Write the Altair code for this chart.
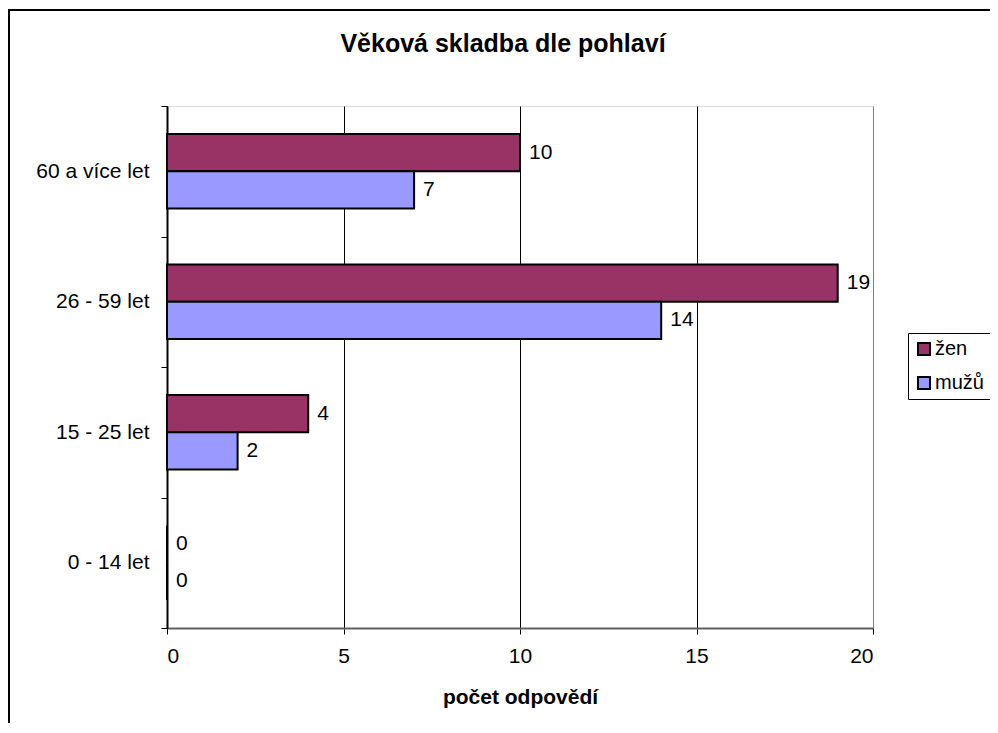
import altair as alt
import pandas as pd

title_text = "Věková skladba dle pohlaví"
categories = ["60 a více let", "26 - 59 let", "15 - 25 let", "0 - 14 let"]
series = ["žen", "mužů"]
zen = [10, 19, 4, 0]
muzu = [7, 14, 2, 0]
x_ticks = [0, 5, 10, 15, 20]
colors = ["#993366", "#9999FF"]

rows = []
for c, z, m in zip(categories, zen, muzu):
    rows.append({"vek": c, "pohlavi": "žen", "pocet": z})
    rows.append({"vek": c, "pohlavi": "mužů", "pocet": m})
df = pd.DataFrame(rows)

FONT = "Liberation Sans"
FS = 21

y_enc = alt.Y(
    "vek:N",
    sort=categories,
    title=None,
    scale=alt.Scale(paddingInner=0, paddingOuter=0),
    axis=alt.Axis(
        tickBand="extent",
        tickSize=6,
        tickColor="black",
        domainColor="black",
        domainWidth=2,
        labelPadding=12,
        labelFontSize=FS,
        labelFont=FONT,
        labelColor="black",
        grid=False,
    ),
)
yoff = alt.YOffset(
    "pohlavi:N", sort=series, scale=alt.Scale(paddingInner=0, paddingOuter=0.754)
)
x_enc = alt.X(
    "pocet:Q",
    scale=alt.Scale(domain=[0, 20], nice=False),
    axis=alt.Axis(
        values=x_ticks,
        title="počet odpovědí",
        titleFont=FONT,
        titleFontSize=FS,
        titleFontWeight="bold",
        titleColor="black",
        titlePadding=20,
        labelFont=FONT,
        labelFontSize=FS,
        labelColor="black",
        labelPadding=11,
        tickSize=6,
        tickColor="black",
        domainColor="#606060",
        domainWidth=2,
        grid=True,
        gridColor={"condition": {"test": "datum.value == 20", "value": "#808080"}, "value": "black"},
        gridWidth=1,
    ),
)
color_enc = alt.Color(
    "pohlavi:N",
    sort=series,
    scale=alt.Scale(domain=series, range=colors),
    legend=alt.Legend(
        title=None,
        orient="none",
        legendX=741,
        legendY=227,
        symbolType="square",
        symbolSize=144,
        symbolStrokeColor="black",
        symbolStrokeWidth=2,
        symbolOpacity=1,
        labelFont=FONT,
        labelFontSize=20,
        labelColor="black",
        labelOffset=1,
        rowPadding=14,
        padding=6,
        strokeColor="black",
        fillColor="white",
    ),
)

bars = alt.Chart(df).mark_bar(stroke="black", strokeWidth=2, opacity=1).encode(
    y=y_enc, yOffset=yoff, x=x_enc, color=color_enc
)
labels = alt.Chart(df).mark_text(
    align="left", baseline="middle", dx=9, fontSize=FS, font=FONT, color="black"
).encode(y=y_enc, yOffset=yoff, x=x_enc, text="pocet:Q")

deco = pd.DataFrame({"t": [title_text]})
frame = alt.Chart(deco).mark_rect(
    filled=False, stroke="black", strokeWidth=2
).encode(
    x=alt.value(-158), x2=alt.value(3000), y=alt.value(-96), y2=alt.value(3000)
)
title = alt.Chart(deco).mark_text(
    align="center", baseline="alphabetic", fontSize=25, fontWeight="bold", font=FONT, color="black"
).encode(x=alt.value(336), y=alt.value(-54), text="t:N")

chart = alt.layer(frame, bars, labels, title).properties(
    width=706,
    height=522,
    autosize=alt.AutoSizeParams(type="none"),
    padding={"left": 159, "top": 98, "right": 117, "bottom": 95},
).configure_view(stroke="#808080", strokeWidth=2).configure(background="white")

chart.save("out.html", embed_options={"renderer": "svg", "actions": False})
